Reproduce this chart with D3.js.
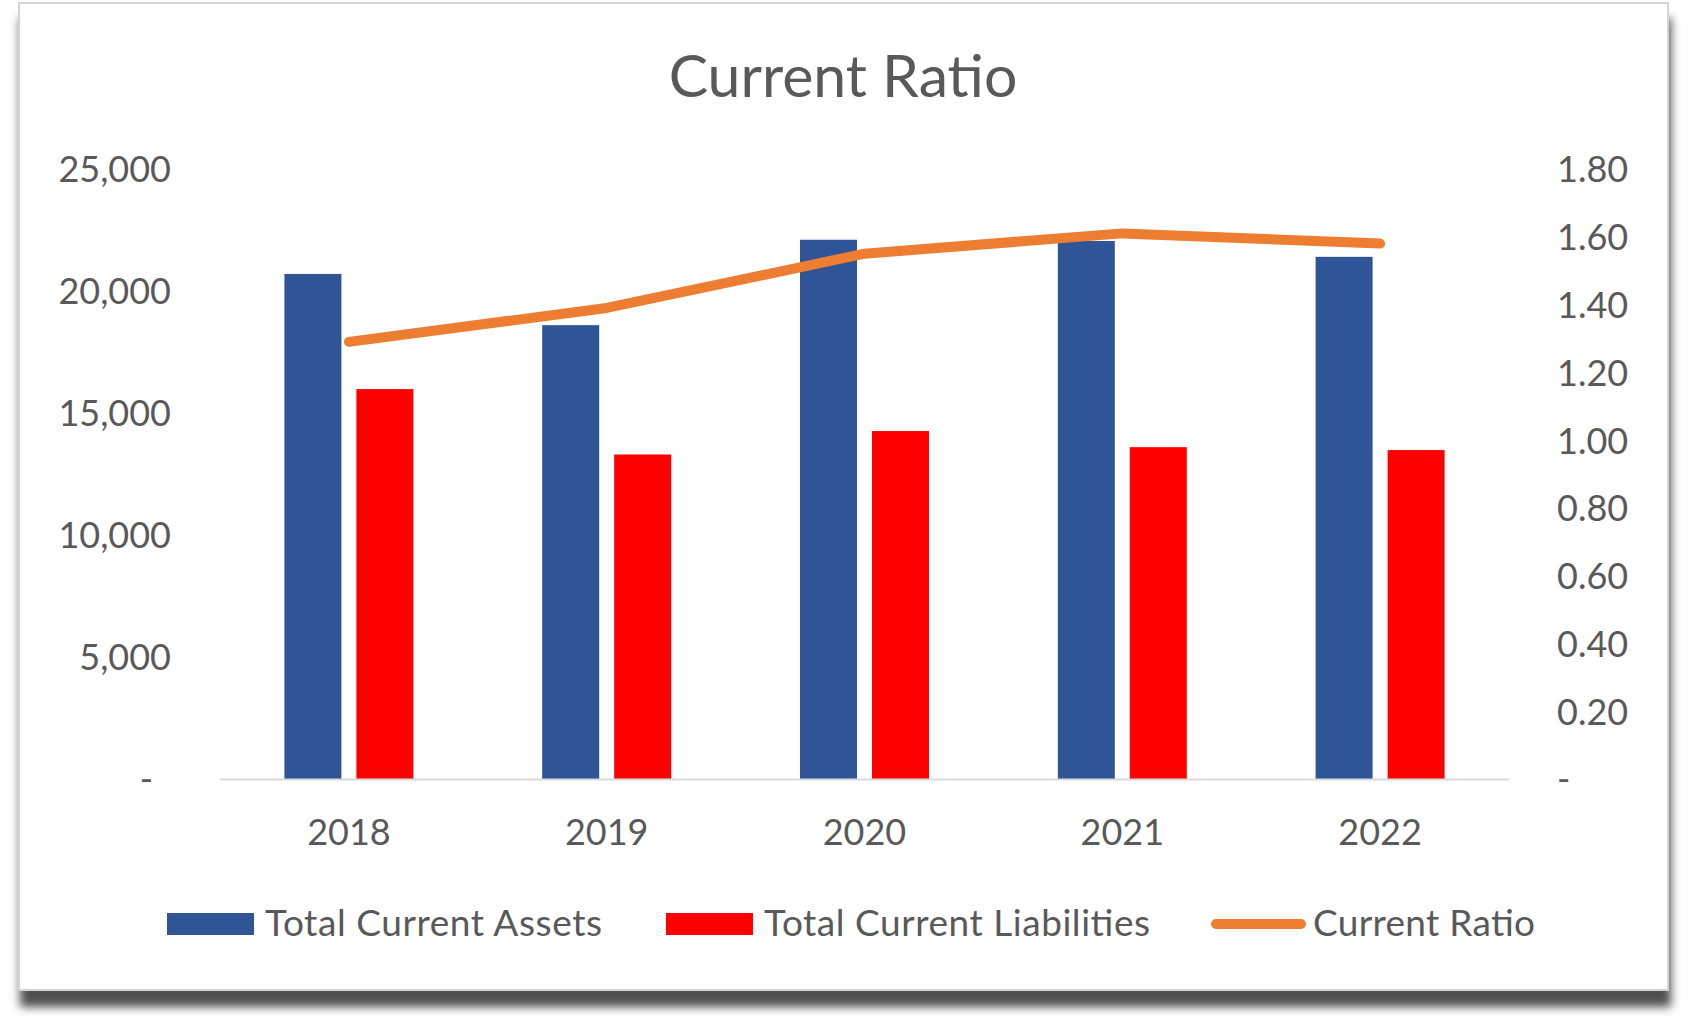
<!DOCTYPE html>
<html>
<head>
<meta charset="utf-8">
<script src="https://cdn.jsdelivr.net/npm/d3@7"></script>
<style>
  html, body { margin: 0; padding: 0; background: #ffffff; }
  svg { display: block; }
  text { font-family: Lato, "Open Sans", sans-serif; fill: #595959; }
</style>
</head>
<body>
<svg id="chart" width="1688" height="1028"></svg>
<script>
// ---- data ----
const years = ["2018", "2019", "2020", "2021", "2022"];
const totalCurrentAssets = [20700, 18600, 22100, 22050, 21400];
const totalCurrentLiabilities = [15980, 13300, 14260, 13600, 13480];
const currentRatio = [1.29, 1.39, 1.55, 1.61, 1.58];
const leftTicks = [0, 5000, 10000, 15000, 20000, 25000];
const rightTicks = [0, 0.2, 0.4, 0.6, 0.8, 1.0, 1.2, 1.4, 1.6, 1.8];
const seriesNames = ["Total Current Assets", "Total Current Liabilities", "Current Ratio"];
const colors = { assets: "#2F5597", liab: "#FF0000", ratio: "#ED7D31" };

const svg = d3.select("#chart");

// ---- card with shadow ----
const defs = svg.append("defs");
const f = defs.append("filter").attr("id", "shadow")
  .attr("x", "-5%").attr("y", "-5%").attr("width", "115%").attr("height", "115%");
f.append("feDropShadow").attr("dx", 2).attr("dy", 16).attr("stdDeviation", 5)
  .attr("flood-color", "#505050").attr("flood-opacity", 1);

svg.append("rect")
  .attr("x", 19).attr("y", 3).attr("width", 1649).attr("height", 987)
  .attr("fill", "#ffffff").attr("stroke", "#d4d4d4").attr("stroke-width", 2)
  .attr("filter", "url(#shadow)");

// ---- scales ----
const plotLeft = 220, plotRight = 1509, plotTop = 169, plotBottom = 779;
const x = d3.scaleBand().domain(years).range([plotLeft, plotRight]).padding(0);
const groupW = 129;
const x1 = d3.scaleBand().domain(["assets", "liab"]).range([0, groupW]).paddingInner(0.208).paddingOuter(0);
const yL = d3.scaleLinear().domain([0, 25000]).range([plotBottom, plotTop]);
const yR = d3.scaleLinear().domain([0, 1.8]).range([plotBottom, plotTop]);

// ---- title ----
svg.append("text").attr("x", 843).attr("y", 97)
  .attr("text-anchor", "middle").style("font-size", "59px")
  .text("Current Ratio");

// ---- left axis ----
const fmtL = v => v === 0 ? "-" : d3.format(",")(v);
const gL = svg.append("g").attr("transform", `translate(171,0)`)
  .call(d3.axisLeft(yL).tickValues(leftTicks).tickFormat(fmtL).tickSize(0).tickPadding(0));
gL.select(".domain").remove();
gL.selectAll("text").style("font-size", "36px").attr("fill", "#595959")
  .style("font-family", "Lato, sans-serif")
  .attr("dy", "0.36em")
  .attr("x", d => d === 0 ? -18 : 0);

// ---- right axis ----
const fmtR = v => v === 0 ? "-" : d3.format(".2f")(v);
const gR = svg.append("g").attr("transform", `translate(1557,0)`)
  .call(d3.axisRight(yR).tickValues(rightTicks).tickFormat(fmtR).tickSize(0).tickPadding(0));
gR.select(".domain").remove();
gR.selectAll("text").style("font-size", "36px").attr("fill", "#595959")
  .style("font-family", "Lato, sans-serif")
  .attr("dy", "0.36em");

// ---- bars ----
const groups = svg.append("g").selectAll("g").data(years).join("g")
  .attr("transform", d => `translate(${x(d) + (x.bandwidth() - groupW) / 2},0)`);
groups.append("rect")
  .attr("x", x1("assets")).attr("width", x1.bandwidth())
  .attr("y", (d, i) => yL(totalCurrentAssets[i]))
  .attr("height", (d, i) => yL(0) - yL(totalCurrentAssets[i]))
  .attr("fill", colors.assets);
groups.append("rect")
  .attr("x", x1("liab")).attr("width", x1.bandwidth())
  .attr("y", (d, i) => yL(totalCurrentLiabilities[i]))
  .attr("height", (d, i) => yL(0) - yL(totalCurrentLiabilities[i]))
  .attr("fill", colors.liab);

// ---- x axis ----
const gX = svg.append("g").attr("transform", `translate(0,${plotBottom})`)
  .call(d3.axisBottom(x).tickSize(0).tickPadding(0));
gX.select(".domain").attr("stroke", "#d9d9d9").attr("stroke-width", 2);
gX.selectAll("text").style("font-size", "36px").attr("fill", "#595959")
  .style("font-family", "Lato, sans-serif")
  .attr("dy", 0).attr("y", 66);

// ---- ratio line ----
const line = d3.line()
  .x((d, i) => x(years[i]) + x.bandwidth() / 2)
  .y(d => yR(d));
svg.append("path").datum(currentRatio)
  .attr("d", line).attr("fill", "none")
  .attr("stroke", colors.ratio).attr("stroke-width", 10)
  .attr("stroke-linecap", "round").attr("stroke-linejoin", "round");

// ---- legend ----
const lg = svg.append("g");
const legendY = 924;
lg.append("rect").attr("x", 167).attr("y", legendY - 11).attr("width", 87).attr("height", 22).attr("fill", colors.assets);
lg.append("text").attr("x", 265).attr("y", legendY + 12).style("font-size", "37px")
  .attr("textLength", 337).attr("lengthAdjust", "spacing").text(seriesNames[0]);
lg.append("rect").attr("x", 666).attr("y", legendY - 11).attr("width", 87).attr("height", 22).attr("fill", colors.liab);
lg.append("text").attr("x", 764).attr("y", legendY + 12).style("font-size", "37px")
  .attr("textLength", 386).attr("lengthAdjust", "spacing").text(seriesNames[1]);
lg.append("line").attr("x1", 1216).attr("x2", 1301).attr("y1", legendY).attr("y2", legendY)
  .attr("stroke", colors.ratio).attr("stroke-width", 10).attr("stroke-linecap", "round");
lg.append("text").attr("x", 1313).attr("y", legendY + 12).style("font-size", "37px")
  .attr("textLength", 222).attr("lengthAdjust", "spacing").text(seriesNames[2]);
</script>
</body>
</html>
